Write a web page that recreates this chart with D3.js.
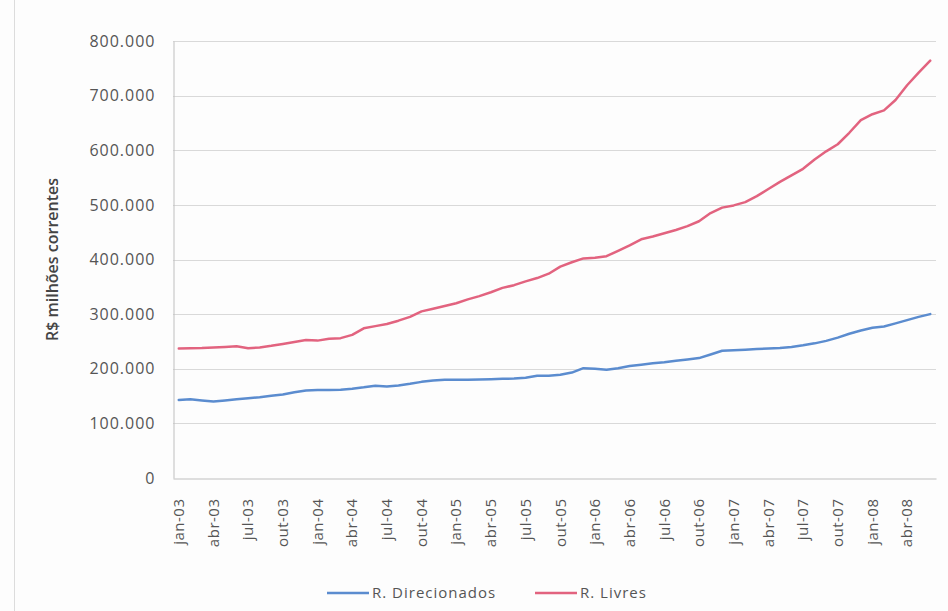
<!DOCTYPE html>
<html>
<head>
<meta charset="utf-8">
<script src="https://cdn.jsdelivr.net/npm/d3@7"></script>
<style>
  html, body { margin: 0; padding: 0; background: #fdfdfd; }
  svg { display: block; font-family: "Open Sans", "Noto Sans", sans-serif; }
</style>
</head>
<body>
<svg id="chart" width="948" height="611"></svg>
<script>
// Month names and years used to build the monthly categories (jan-03 .. jun-08)
const monthNames = ["jan", "fev", "mar", "abr", "mai", "jun", "jul", "ago", "set", "out", "nov", "dez"];
const years = ["03", "04", "05", "06", "07", "08"];
const lastMonthIndex = 5; // jun of the final year

// Labelled categories on the horizontal axis
const tickLabels = [
  "jan-03", "abr-03", "jul-03", "out-03",
  "jan-04", "abr-04", "jul-04", "out-04",
  "jan-05", "abr-05", "jul-05", "out-05",
  "jan-06", "abr-06", "jul-06", "out-06",
  "jan-07", "abr-07", "jul-07", "out-07",
  "jan-08", "abr-08"
];

// Vertical axis ticks (R$ milhões)
const yTicks = [0, 100000, 200000, 300000, 400000, 500000, 600000, 700000, 800000];

// Credit balances, R$ milhões correntes, monthly
const direcionados = [
  143000, 144000, 142000, 140000, 142000, 144000, 146000, 148000, 150500, 153000, 157000, 160000,
  161000, 161000, 161500, 163500, 166000, 169000, 167500, 169500, 172500, 176000, 178500, 180000,
  180000, 180000, 180500, 181000, 181500, 182000, 183500, 187000, 187000, 189000, 193000, 201000,
  200000, 198000, 201000, 205000, 207500, 210000, 212000, 214500, 217000, 219500, 226000, 233000,
  234000, 235000, 236000, 237000, 238000, 240000, 243000, 246500, 251000, 257000, 264000, 270000,
  275000, 277500, 283000, 289000, 295000, 300000
];
const livres = [
  237000, 237500, 238000, 239000, 240000, 241000, 237500, 239000, 242000, 245500, 249000, 252500,
  251500, 255000, 256000, 262000, 274000, 278000, 282000, 288000, 295000, 305000, 310000, 315000,
  320000, 327000, 333000, 340000, 348000, 353000, 360000, 366000, 374000, 387000, 395000, 402000,
  403000, 406000, 416000, 426000, 437000, 442000, 448000, 454000, 461000, 470000, 485000, 495000,
  499000, 505000, 516000, 529000, 542000, 554000, 566000, 583000, 598000, 611000, 632000, 655000,
  666000, 673000, 692000, 719000, 742000, 764000
];

const seriesNames = ["R. Direcionados", "R. Livres"];
const seriesColors = ["#5b8ccf", "#e2637f"];

// Category list built from month names and years
const categories = [];
years.forEach((yr, yi) => {
  monthNames.forEach((m, mi) => {
    if (yi === years.length - 1 && mi > lastMonthIndex) return;
    categories.push(m + "-" + yr);
  });
});

const svg = d3.select("#chart");
const plot = { left: 173, right: 936, top: 41, bottom: 478 };

const x = d3.scaleBand().domain(categories).range([plot.left, plot.right]).padding(0);
const y = d3.scaleLinear().domain([0, 800000]).range([plot.bottom, plot.top]);

const ptBR = d3.formatLocale({ decimal: ",", thousands: ".", grouping: [3], currency: ["R$", ""] });
const fmt = ptBR.format(",d");

// Outer chart frame (left edge)
svg.append("line")
  .attr("x1", 14.5).attr("x2", 14.5).attr("y1", 0).attr("y2", 611)
  .attr("stroke", "#dcdcdc").attr("stroke-width", 1);

// Horizontal gridlines
svg.append("g")
  .selectAll("line")
  .data(yTicks.filter(d => d > 0))
  .join("line")
  .attr("x1", plot.left).attr("x2", plot.right)
  .attr("y1", d => Math.round(y(d)) + 0.5).attr("y2", d => Math.round(y(d)) + 0.5)
  .attr("stroke", "#d9d9d9").attr("stroke-width", 1);

// Vertical axis via d3.axisLeft
const yAxis = svg.append("g")
  .attr("transform", `translate(${plot.left + 0.5},0)`)
  .call(d3.axisLeft(y).tickValues(yTicks).tickFormat(fmt).tickSize(0).tickPadding(18));
yAxis.select(".domain").attr("stroke", "#bfbfbf");
yAxis.selectAll("text")
  .attr("font-size", 16)
  .attr("letter-spacing", "1px")
  .attr("fill", "#555")
  .attr("font-family", "'Open Sans', 'Noto Sans', sans-serif");

// Horizontal axis via d3.axisBottom
const xAxis = svg.append("g")
  .attr("transform", `translate(0,${plot.bottom + 0.5})`)
  .call(d3.axisBottom(x).tickValues(tickLabels).tickSize(0).tickPadding(0));
xAxis.select(".domain").attr("stroke", "#bfbfbf");
xAxis.selectAll("text")
  .attr("font-size", 15)
  .attr("letter-spacing", "0.5px")
  .attr("fill", "#555")
  .attr("font-family", "'Open Sans', 'Noto Sans', sans-serif")
  .attr("text-anchor", "end")
  .attr("transform", "translate(0,20) rotate(-90)")
  .attr("x", 0).attr("y", 0).attr("dy", "0.35em");

// Axis title
svg.append("text")
  .attr("transform", `translate(58,${(plot.top + plot.bottom) / 2}) rotate(-90)`)
  .attr("text-anchor", "middle")
  .attr("font-size", 16)
  .attr("font-weight", 600)
  .attr("fill", "#444")
  .text("R$ milhões correntes");

// Series lines
const line = d3.line()
  .x((d, i) => x(categories[i]) + x.bandwidth() / 2)
  .y(d => y(d));

[direcionados, livres].forEach((vals, si) => {
  svg.append("path")
    .datum(vals)
    .attr("fill", "none")
    .attr("stroke", seriesColors[si])
    .attr("stroke-width", 2.5)
    .attr("stroke-linejoin", "round")
    .attr("stroke-linecap", "round")
    .attr("d", line);
});

// Legend
const legendItems = [
  { name: seriesNames[0], color: seriesColors[0], x: 327 },
  { name: seriesNames[1], color: seriesColors[1], x: 535 }
];
const legend = svg.append("g");
legendItems.forEach(it => {
  legend.append("line")
    .attr("x1", it.x).attr("x2", it.x + 42)
    .attr("y1", 593).attr("y2", 593)
    .attr("stroke", it.color).attr("stroke-width", 2.5);
  legend.append("text")
    .attr("x", it.x + 45).attr("y", 593).attr("dy", "0.35em")
    .attr("font-size", 15)
    .attr("letter-spacing", "1px")
    .attr("fill", "#555")
    .text(it.name);
});
</script>
</body>
</html>
